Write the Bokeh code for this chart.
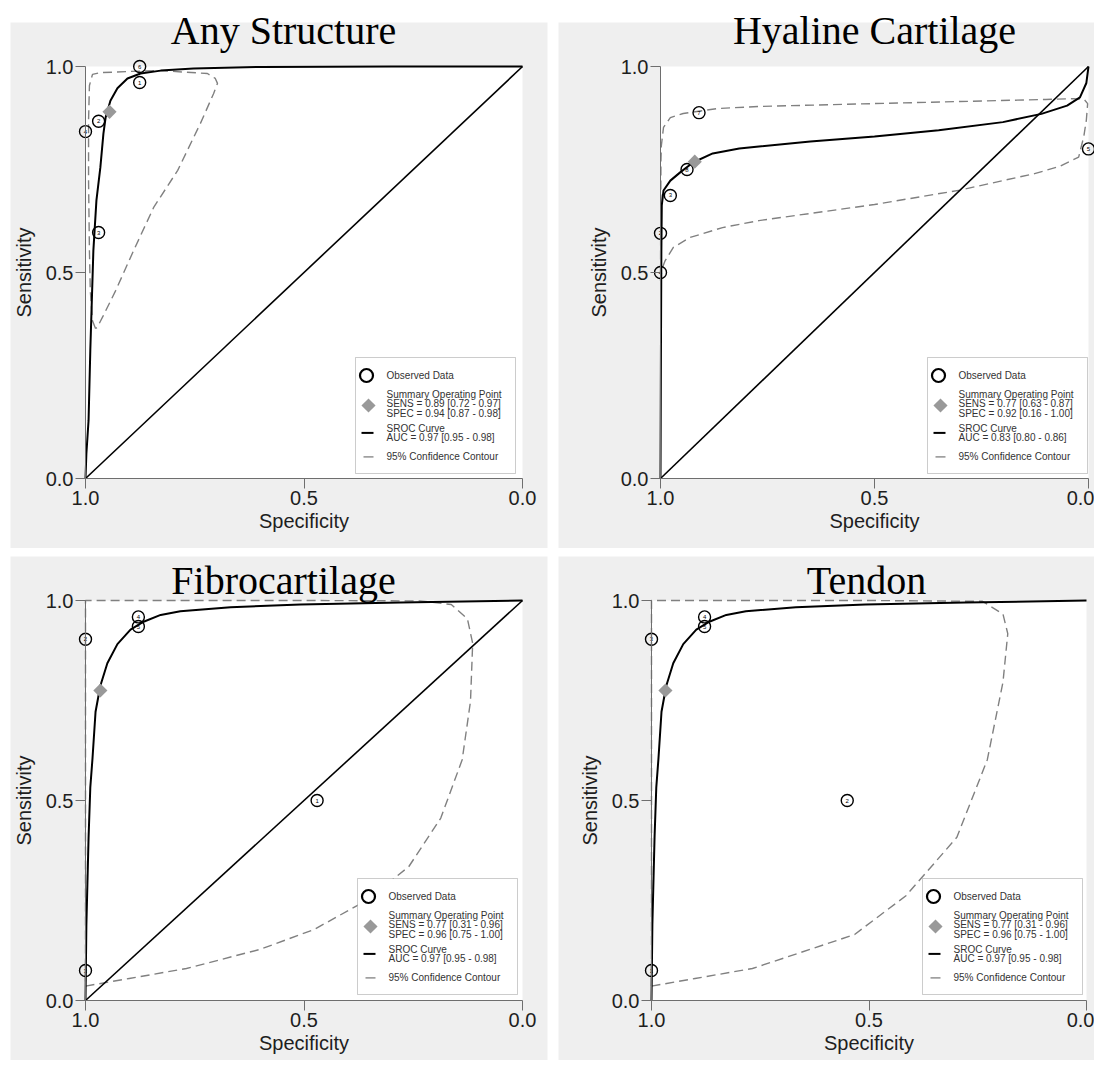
import math
from bokeh.plotting import figure
from bokeh.models import Range1d, FixedTicker, PrintfTickFormatter, BoxAnnotation, Label
from bokeh.layouts import row, column
from bokeh.embed import file_html
from bokeh.resources import INLINE
from bokeh.core.properties import value

SANS = "Liberation Sans"
SERIF = "Liberation Serif"
PANEL_GRAY = "#efefef"
CI_GRAY = "#808080"
SUM_GRAY = "#999999"

TICKS = [0.0, 0.5, 1.0]
X_LABEL = "Specificity"
Y_LABEL = "Sensitivity"
DIAG_SPEC = [1.0, 0.0]
DIAG_SENS = [0.0, 1.0]

# ---------------- Any Structure ----------------
AS_title = "Any Structure"
AS_study = ["1", "2", "3", "4", "6"]
AS_spec = [0.876, 0.970, 0.970, 1.000, 0.876]
AS_sens = [0.961, 0.867, 0.597, 0.842, 1.000]
AS_sum_spec = [0.945]
AS_sum_sens = [0.890]
AS_sroc_spec = [1.000, 0.998, 0.993, 0.989, 0.982, 0.975, 0.966, 0.959, 0.954, 0.943, 0.927, 0.904, 0.874, 0.828, 0.753, 0.600, 0.300, 0.000]
AS_sroc_sens = [0.000, 0.060, 0.141, 0.311, 0.553, 0.675, 0.755, 0.837, 0.876, 0.917, 0.947, 0.971, 0.983, 0.990, 0.995, 0.999, 1.000, 1.000]
AS_ci_spec = [0.977, 0.984, 0.989, 0.991, 0.993, 0.993, 0.991, 0.984, 0.966, 0.900, 0.828, 0.721, 0.703, 0.698, 0.707, 0.737, 0.789, 0.844, 0.890, 0.931, 0.959, 0.973, 0.977]
AS_ci_sens = [0.364, 0.383, 0.456, 0.553, 0.723, 0.869, 0.954, 0.981, 0.985, 0.988, 0.990, 0.983, 0.971, 0.959, 0.934, 0.862, 0.748, 0.658, 0.553, 0.456, 0.396, 0.367, 0.364]
AS_legend = ["Observed Data", "Summary Operating  Point", "SENS = 0.89 [0.72 - 0.97]", "SPEC = 0.94 [0.87 - 0.98]",
             "SROC Curve", "AUC = 0.97 [0.95 - 0.98]", "95% Confidence Contour"]

# ---------------- Hyaline Cartilage ----------------
HC_title = "Hyaline Cartilage"
HC_study = ["7", "8", "3", "2", "4", "5"]
HC_spec = [0.910, 0.938, 0.977, 1.000, 1.000, 0.000]
HC_sens = [0.888, 0.750, 0.687, 0.595, 0.500, 0.800]
HC_sum_spec = [0.920]
HC_sum_sens = [0.769]
HC_sroc_spec = [1.000, 0.999, 0.998, 0.997, 0.993, 0.977, 0.954, 0.924, 0.878, 0.816, 0.770, 0.650, 0.500, 0.350, 0.200, 0.110, 0.050, 0.020, 0.005, 0.000]
HC_sroc_sens = [0.000, 0.300, 0.550, 0.663, 0.699, 0.723, 0.743, 0.767, 0.789, 0.801, 0.806, 0.818, 0.830, 0.845, 0.865, 0.885, 0.905, 0.925, 0.960, 1.000]
HC_ci_spec = [1.000, 0.998, 0.989, 0.970, 0.931, 0.855, 0.770, 0.500, 0.300, 0.126, 0.069, 0.023, 0.011, 0.005, 0.002, 0.010, 0.035, 0.100, 0.300, 0.500, 0.770, 0.866, 0.947, 0.977, 0.993, 0.998, 0.999, 1.000]
HC_ci_sens = [0.480, 0.505, 0.529, 0.561, 0.585, 0.609, 0.626, 0.665, 0.700, 0.740, 0.757, 0.780, 0.830, 0.870, 0.910, 0.920, 0.922, 0.920, 0.915, 0.910, 0.903, 0.898, 0.886, 0.876, 0.852, 0.808, 0.770, 0.480]
HC_legend = ["Observed Data", "Summary Operating  Point", "SENS = 0.77 [0.63 - 0.87]", "SPEC = 0.92 [0.16 - 1.00]",
             "SROC Curve", "AUC = 0.83 [0.80 - 0.86]", "95% Confidence Contour"]

# ---------------- Fibrocartilage ----------------
FC_title = "Fibrocartilage"
FC_study = ["4", "5", "2", "1", "3"]
FC_spec = [0.879, 0.879, 1.000, 0.470, 1.000]
FC_sens = [0.959, 0.935, 0.903, 0.500, 0.075]
FC_sum_spec = [0.966]
FC_sum_sens = [0.775]
FC_sroc_spec = [1.000, 0.998, 0.993, 0.989, 0.984, 0.977, 0.966, 0.950, 0.927, 0.897, 0.867, 0.828, 0.783, 0.668, 0.508, 0.279, 0.000]
FC_sroc_sens = [0.000, 0.189, 0.407, 0.533, 0.605, 0.722, 0.787, 0.843, 0.891, 0.927, 0.947, 0.964, 0.973, 0.983, 0.990, 0.995, 1.000]
FC_ci_spec = [1.000, 0.900, 0.769, 0.600, 0.478, 0.357, 0.260, 0.187, 0.138, 0.119, 0.114, 0.126, 0.163, 0.235, 0.500, 1.000, 1.000]
FC_ci_sens = [0.036, 0.055, 0.080, 0.128, 0.177, 0.250, 0.335, 0.456, 0.602, 0.748, 0.893, 0.954, 0.990, 0.999, 1.000, 1.000, 0.036]
FC_legend = ["Observed Data", "Summary Operating  Point", "SENS = 0.77 [0.31 - 0.96]", "SPEC = 0.96 [0.75 - 1.00]",
             "SROC Curve", "AUC = 0.97 [0.95 - 0.98]", "95% Confidence Contour"]

# ---------------- Tendon ----------------
TD_title = "Tendon"
TD_study = ["4", "5", "3", "2", "1"]
TD_spec = [0.878, 0.878, 1.000, 0.550, 1.000]
TD_sens = [0.959, 0.935, 0.903, 0.500, 0.075]
TD_sum_spec = [0.968]
TD_sum_sens = [0.775]
TD_sroc_spec = [1.000, 0.998, 0.993, 0.989, 0.984, 0.977, 0.966, 0.950, 0.927, 0.897, 0.867, 0.828, 0.783, 0.668, 0.508, 0.279, 0.000]
TD_sroc_sens = [0.000, 0.189, 0.407, 0.533, 0.605, 0.722, 0.787, 0.843, 0.891, 0.927, 0.947, 0.964, 0.973, 0.983, 0.990, 0.995, 1.000]
TD_ci_spec = [1.000, 0.900, 0.768, 0.533, 0.415, 0.298, 0.228, 0.192, 0.181, 0.192, 0.239, 0.500, 1.000, 1.000]
TD_ci_sens = [0.036, 0.055, 0.080, 0.165, 0.262, 0.408, 0.602, 0.796, 0.917, 0.966, 0.998, 1.000, 1.000, 0.036]
TD_legend = ["Observed Data", "Summary Operating  Point", "SENS = 0.77 [0.31 - 0.96]", "SPEC = 0.96 [0.75 - 1.00]",
             "SROC Curve", "AUC = 0.97 [0.95 - 0.98]", "95% Confidence Contour"]


def make_panel(cfg):
    X0, Y0, W, H = cfg["fig"]          # placement of the figure in the picture
    x1p, x0p, y1p, y0p = cfg["cal"]    # picture px of spec=1, spec=0, sens=1, sens=0

    def dx(px):
        return 1.0 - (px - x1p) / (x0p - x1p)

    def dy(py):
        return (y0p - py) / (y0p - y1p)

    p = figure(width=W, height=H,
               x_range=Range1d(dx(X0), dx(X0 + W)), y_range=Range1d(dy(Y0 + H), dy(Y0)),
               output_backend="svg", toolbar_location=None, min_border=0,
               background_fill_color="white", border_fill_color="white", outline_line_color=None)
    p.grid.visible = False

    gx0, gy0, gx1, gy1 = cfg["gray"]
    p.add_layout(BoxAnnotation(left=dx(gx0), right=dx(gx1), top=dy(gy0), bottom=dy(gy1),
                               fill_color=PANEL_GRAY, fill_alpha=1, line_color=None, level="underlay"))
    p.add_layout(BoxAnnotation(left=1.0, right=0.0, top=1.0, bottom=0.0,
                               fill_color="white", fill_alpha=1, line_color=None, level="underlay"))

    # axes placed at spec = 1 and sens = 0
    p.xaxis.fixed_location = 0.0
    p.yaxis.fixed_location = 1.0
    for ax in (p.xaxis[0], p.yaxis[0]):
        ax.bounds = (0, 1)
        ax.ticker = FixedTicker(ticks=TICKS)
        ax.formatter = PrintfTickFormatter(format="%.1f")
        ax.minor_tick_line_color = None
        ax.axis_line_color = "#6e6e6e"
        ax.major_tick_line_color = "#6e6e6e"
        ax.major_tick_in = 0
        ax.major_tick_out = 10
        ax.major_label_standoff = 2
        ax.major_label_text_font = SANS
        ax.major_label_text_font_size = "20px"
        ax.major_label_text_color = "#1e1e1e"
        ax.axis_label_text_font = SANS
        ax.axis_label_text_font_size = "20px"
        ax.axis_label_text_font_style = "normal"
        ax.axis_label_text_color = "#1e1e1e"
    p.xaxis.axis_label = X_LABEL
    p.yaxis.axis_label = Y_LABEL
    p.xaxis.axis_label_standoff = 2
    p.yaxis.axis_label_standoff = 8

    # data
    p.line(cfg["ci_spec"], cfg["ci_sens"], line_color=CI_GRAY, line_width=1.4, line_dash="9 5")
    if cfg["diag"]:
        p.line(DIAG_SPEC, DIAG_SENS, line_color="black", line_width=1.6)
    p.line(cfg["sroc_spec"], cfg["sroc_sens"], line_color="black", line_width=2.0)
    p.scatter(cfg["spec"], cfg["sens"], marker="circle", size=12, fill_color=None,
              line_color="black", line_width=1.4)
    p.text(cfg["spec"], cfg["sens"], text=cfg["study"], text_font=value(SANS), text_font_size="6px",
           text_align="center", text_baseline="middle", text_color="black")
    p.scatter(cfg["sum_spec"], cfg["sum_sens"], marker="square", angle=math.pi / 4, size=10,
              fill_color=SUM_GRAY, line_color=None)

    # title
    tx, ty = cfg["title_pos"]
    p.add_layout(Label(x=dx(tx), y=dy(ty), text=cfg["title"], text_font=SERIF, text_font_size="40px",
                       text_align="center", text_baseline="alphabetic", text_color="black"))

    # legend box
    lx, ly = cfg["legend_pos"]
    LW, LH = 160, 116
    p.add_layout(BoxAnnotation(left=dx(lx), right=dx(lx + LW), top=dy(ly), bottom=dy(ly + LH),
                               fill_color="white", fill_alpha=1, line_color="#555555", line_width=1))
    p.scatter([dx(lx + 11)], [dy(ly + 18)], marker="circle", size=13, fill_color=None,
              line_color="black", line_width=2.2, level="overlay")
    p.scatter([dx(lx + 13)], [dy(ly + 48)], marker="square", angle=math.pi / 4, size=10,
              fill_color=SUM_GRAY, line_color=None, level="overlay")
    p.line([dx(lx + 6), dx(lx + 18)], [dy(ly + 75.4)] * 2, line_color="black", line_width=2,
           level="overlay")
    p.line([dx(lx + 8), dx(lx + 18)], [dy(ly + 99.4)] * 2, line_color=CI_GRAY, line_width=1.3,
           level="overlay")
    offs = [18, 37, 46.3, 55.6, 71, 80.4, 99.4]
    p.text([dx(lx + 31)] * 7, [dy(ly + o) for o in offs], text=cfg["legend"], text_font=value(SANS),
           text_font_size="10px", text_align="left", text_baseline="middle", text_color="#333333",
           level="overlay")
    return p


p_as = make_panel(dict(fig=(0, 0, 553, 548), cal=(85, 522, 66, 478), gray=(10, 22, 547, 548),
                       title=AS_title, title_pos=(283, 30), legend_pos=(355, 357), legend=AS_legend,
                       study=AS_study, spec=AS_spec, sens=AS_sens, sum_spec=AS_sum_spec, sum_sens=AS_sum_sens,
                       sroc_spec=AS_sroc_spec, sroc_sens=AS_sroc_sens, ci_spec=AS_ci_spec, ci_sens=AS_ci_sens,
                       diag=True))
p_hc = make_panel(dict(fig=(553, 0, 541, 548), cal=(660, 1088, 66, 478), gray=(558, 22, 1094, 548),
                       title=HC_title, title_pos=(874, 30), legend_pos=(927, 357), legend=HC_legend,
                       study=HC_study, spec=HC_spec, sens=HC_sens, sum_spec=HC_sum_spec, sum_sens=HC_sum_sens,
                       sroc_spec=HC_sroc_spec, sroc_sens=HC_sroc_sens, ci_spec=HC_ci_spec, ci_sens=HC_ci_sens,
                       diag=True))
p_fc = make_panel(dict(fig=(0, 548, 553, 512), cal=(85, 522, 600, 1000), gray=(10, 556, 547, 1060),
                       title=FC_title, title_pos=(283, 580), legend_pos=(357, 878), legend=FC_legend,
                       study=FC_study, spec=FC_spec, sens=FC_sens, sum_spec=FC_sum_spec, sum_sens=FC_sum_sens,
                       sroc_spec=FC_sroc_spec, sroc_sens=FC_sroc_sens, ci_spec=FC_ci_spec, ci_sens=FC_ci_sens,
                       diag=True))
p_td = make_panel(dict(fig=(553, 548, 541, 512), cal=(651, 1086, 600, 1000), gray=(558, 556, 1094, 1060),
                       title=TD_title, title_pos=(866, 580), legend_pos=(922, 878), legend=TD_legend,
                       study=TD_study, spec=TD_spec, sens=TD_sens, sum_spec=TD_sum_spec, sum_sens=TD_sum_sens,
                       sroc_spec=TD_sroc_spec, sroc_sens=TD_sroc_sens, ci_spec=TD_ci_spec, ci_sens=TD_ci_sens,
                       diag=False))

layout = column(row(p_as, p_hc), row(p_fc, p_td))
open("out.html", "w").write(file_html(layout, INLINE))
